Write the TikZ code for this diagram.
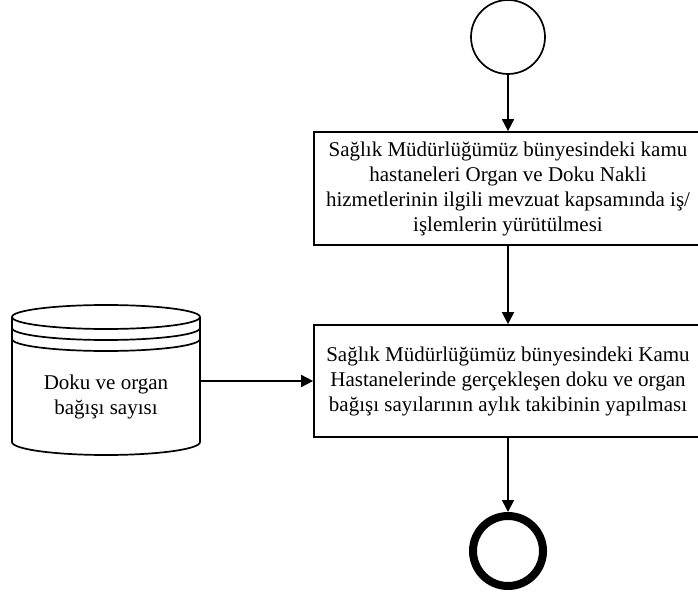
\documentclass[tikz,border=0pt]{standalone}
\usepackage{fontspec}
\setmainfont{Liberation Serif}
\usetikzlibrary{arrows.meta}
\begin{document}
\begin{tikzpicture}[x=1pt,y=-1pt,
  every node/.style={font=\fontsize{21}{25}\selectfont},
  line/.style={line width=1.7pt},
  flow/.style={line, -{Triangle[width=12pt,length=12pt]}},
  task/.style={draw, line width=1.7pt, rectangle, minimum width=388pt, align=center, inner sep=0pt},
  startev/.style={draw, circle, line width=1.7pt, minimum size=74pt, inner sep=0pt},
  endev/.style={draw, circle, line width=8pt, minimum size=70pt, inner sep=0pt},
]
\useasboundingbox (0,0) rectangle (698,599);

% events
\node[startev] (start) at (508,37) {};
\node[endev] (end) at (508,551) {};

% tasks
\node[task, minimum height=113pt] (t1) at (508,188.5)
  {Sağlık Müdürlüğümüz bünyesindeki kamu\\hastaneleri Organ ve Doku Nakli\\hizmetlerinin ilgili mevzuat kapsamında iş/\\işlemlerin yürütülmesi};
\node[task, minimum height=112pt] (t2) at (508,381)
  {Sağlık Müdürlüğümüz bünyesindeki Kamu\\Hastanelerinde gerçekleşen doku ve organ\\bağışı sayılarının aylık takibinin yapılması};

% data store: stacked cylinder
\draw[line] (106,317) ellipse [x radius=94, y radius=12];
\draw[line] (12,328) arc [start angle=180, end angle=0, x radius=94, y radius=12];
\draw[line] (12,339) arc [start angle=180, end angle=0, x radius=94, y radius=12];
\draw[line] (12,317) -- (12,442) arc [start angle=180, end angle=0, x radius=94, y radius=13] -- (200,317);
\node[minimum width=188pt, minimum height=128pt, inner sep=0pt] (db) at (106,381) {};
\node[align=center] (dbtext) at (106,397) {Doku ve organ\\bağışı sayısı};

% sequence flows
\draw[flow] (start) -- (t1);
\draw[flow] (t1) -- (t2);
\draw[flow] (t2) -- (end);
\draw[flow] (db.east) -- (t2.west);
\end{tikzpicture}
\end{document}
